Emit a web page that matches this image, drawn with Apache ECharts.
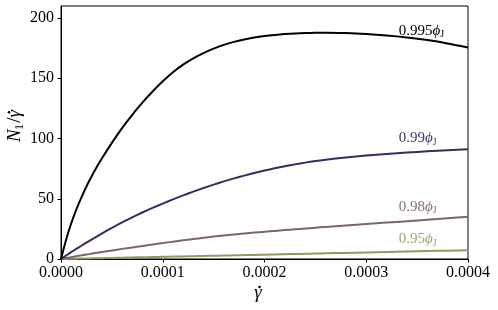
<!DOCTYPE html>
<html><head><meta charset="utf-8">
<script src="https://cdn.jsdelivr.net/npm/echarts@6/dist/echarts.min.js"></script>
<style>html,body{margin:0;padding:0;background:#fff}#c{width:498px;height:310px}</style>
</head><body><div id="c"></div>
<script>
// shear-rate samples (units of 1e-5)
const xs = [0,0.5,1,1.5,2,2.5,3,3.5,4,5,6,7,8,9,10,11,12,13,14,15,16,17,18,19,20,21,22,23,24,25,26,28,30,32,34,36,38,40];
const phi0995 = [0,16,29.5,41,51,60.2,68.5,76.1,83.2,96.4,108.6,119.7,129.8,139,147.5,155,161.3,166.5,170.9,174.6,177.7,180.2,182.2,183.8,185.05,186,186.7,187.2,187.55,187.75,187.8,187.5,186.8,185.6,183.9,181.7,178.9,175.5];
const phi099  = [0,2.9,5.7,8.4,11,13.6,16.1,18.6,21.1,25.9,30.4,34.6,38.6,42.4,46,49.5,52.8,55.9,58.9,61.7,64.4,66.9,69.2,71.4,73.4,75.25,77,78.55,80,81.25,82.4,84.3,85.9,87.2,88.4,89.4,90.3,91];
const phi098  = [0,0.75,1.5,2.25,3,3.7,4.4,5.1,5.8,7.1,8.4,9.6,10.8,12,13.2,14.4,15.5,16.6,17.6,18.6,19.5,20.3,21.1,21.9,22.6,23.3,24,24.65,25.3,25.95,26.6,27.8,29,30.2,31.4,32.6,33.8,35];
const phi095  = [0,0.09,0.18,0.27,0.36,0.45,0.54,0.63,0.72,0.9,1.08,1.26,1.44,1.62,1.8,1.98,2.16,2.34,2.52,2.7,2.88,3.06,3.24,3.42,3.6,3.78,3.97,4.16,4.34,4.52,4.71,5.08,5.45,5.82,6.19,6.56,6.93,7.3];
const seriesNames = ['0.995', '0.99', '0.98', '0.95'];
const yTicks = [0,50,100,150,200];

const colors = ['#000000', '#3b2a61', '#7b6571', '#8d9d5f'];
const labelColors = ['#000000', '#43336e', '#85707c', '#9aa96c'];
const labelAnchors = [[3.32e-4,189.5],[3.32e-4,100.4],[3.32e-4,43.5],[3.32e-4,16.4]];

const font = 'Liberation Serif';
const mctx = document.createElement('canvas').getContext('2d');
function tw(txt, size, italic) { mctx.font = (italic ? 'italic ' : '') + size + 'px "' + font + '"'; return mctx.measureText(txt).width; }

const chart = echarts.init(document.getElementById('c'), null, {renderer:'canvas'});
const all = [phi0995, phi099, phi098, phi095];
const series = all.map((vals, i) => ({
  type: 'line', name: seriesNames[i], showSymbol: false, smooth: 0.2,
  data: xs.map((x, j) => [x * 1e-5, vals[j]]),
  lineStyle: {color: colors[i], width: 2},
  itemStyle: {color: colors[i]},
  z: 10 - i,
  markPoint: {
    symbol: 'circle', symbolSize: 0, silent: true,
    data: [{coord: labelAnchors[i]}],
    label: {
      show: true, position: 'right', distance: 0,
      formatter: '{a|' + seriesNames[i] + '}{p|ϕ}{s|J}',
      rich: {
        a: {fontFamily: font, fontSize: 15, color: labelColors[i], lineHeight: 18, verticalAlign: 'middle'},
        p: {fontFamily: font, fontStyle: 'italic', fontSize: 15, color: labelColors[i], lineHeight: 18, verticalAlign: 'middle'},
        s: {fontFamily: font, fontSize: 10, color: labelColors[i], lineHeight: 10, verticalAlign: 'bottom'}
      }
    }
  }
}));

// axis titles built as text graphics (dot accent placed over gamma)
const NS = 19, SS = 13;
const wN = tw('N', NS, true), w1 = tw('1', SS, false), wS = tw('/', NS, false), wG = tw('γ', NS, true);
const total = wN + w1 + wS + wG;
let x0 = -total / 2;
const yTitle = [
  {type: 'text', x: x0, y: 0, style: {text: 'N', font: 'italic ' + NS + 'px "' + font + '"', fill: '#000', verticalAlign: 'middle'}},
  {type: 'text', x: x0 + wN - 1, y: 5, style: {text: '1', font: SS + 'px "' + font + '"', fill: '#000', verticalAlign: 'middle'}},
  {type: 'text', x: x0 + wN + w1, y: 0, style: {text: '/', font: NS + 'px "' + font + '"', fill: '#000', verticalAlign: 'middle'}},
  {type: 'text', x: x0 + wN + w1 + wS, y: 0, style: {text: 'γ', font: 'italic ' + NS + 'px "' + font + '"', fill: '#000', verticalAlign: 'middle'}},
  {type: 'circle', shape: {cx: x0 + wN + w1 + wS + wG / 2 + 1.5, cy: -6, r: 1.3}, style: {fill: '#000'}}
];

chart.setOption({
  animation: false,
  grid: {left: 61, right: 30, top: 6, bottom: 51, show: true, borderColor: '#000', borderWidth: 1, backgroundColor: 'transparent', outerBoundsMode: 'none', containLabel: false},
  xAxis: {
    type: 'value', min: 0, max: 0.0004, interval: 0.0001,
    axisLine: {show: true, lineStyle: {color: '#000', width: 1}},
    axisTick: {show: true, inside: false, length: 3.5, lineStyle: {color: '#000'}},
    axisLabel: {fontFamily: font, fontSize: 16, color: '#000', margin: 6, formatter: v => v.toFixed(4)},
    splitLine: {show: false}
  },
  yAxis: {
    type: 'value', min: 0, max: 210,
    axisLine: {show: true, lineStyle: {color: '#000', width: 1}},
    axisTick: {show: true, inside: false, length: 3.5, lineStyle: {color: '#000'}, customValues: yTicks},
    axisLabel: {fontFamily: font, fontSize: 16, color: '#000', margin: 7, customValues: yTicks},
    splitLine: {show: false}
  },
  graphic: [
    {type: 'group', x: 15, y: 126, rotation: Math.PI / 2, children: yTitle},
    {type: 'group', x: 258, y: 293, children: [
      {type: 'text', x: 0, y: 0, style: {text: 'γ', font: 'italic ' + NS + 'px "' + font + '"', fill: '#000', align: 'center', verticalAlign: 'middle'}},
      {type: 'circle', shape: {cx: 1.5, cy: -6, r: 1.3}, style: {fill: '#000'}}
    ]}
  ],
  series: series
});
</script></body></html>
